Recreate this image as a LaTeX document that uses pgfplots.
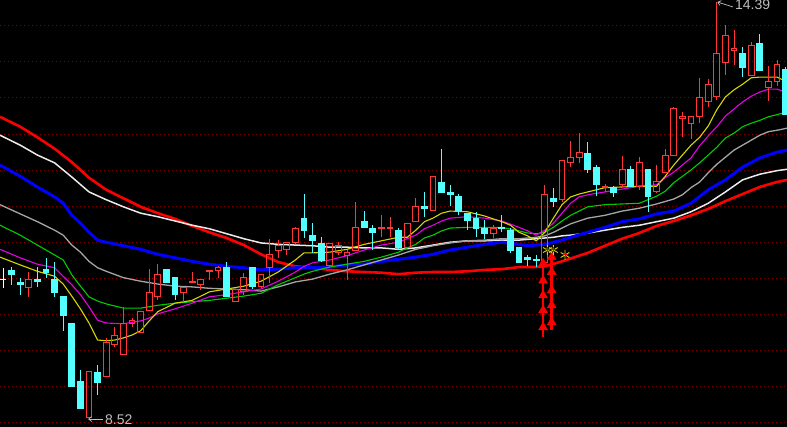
\documentclass[border=0pt]{standalone}
\usepackage{pgfplots}
\pgfplotsset{compat=1.18}
\usepackage{pgfplotstable}
\usepgfplotslibrary{statistics}
\usetikzlibrary{arrows.meta}
\usepackage{fontspec}
\setmainfont{Liberation Sans}
\definecolor{candred}{RGB}{255,55,55}
\definecolor{candcyan}{RGB}{84,255,255}
\definecolor{gridred}{RGB}{128,0,0}
\definecolor{mared}{RGB}{255,0,0}
\definecolor{mawhite}{RGB}{235,235,235}
\definecolor{mablue}{RGB}{0,0,255}
\definecolor{magray}{RGB}{165,165,165}
\definecolor{magreen}{RGB}{0,205,0}
\definecolor{mamag}{RGB}{230,0,230}
\definecolor{mayel}{RGB}{215,215,0}
\definecolor{labgray}{RGB}{190,190,190}
\pgfplotsset{
  cdown/.style={draw=candcyan, fill=candcyan, line width=1pt, solid},
  cup/.style={draw=candred, line width=1pt, solid},
  cdoji/.style={draw=white, line width=1pt, solid},
}

% k: 0 = down (cyan), 1 = up (red), 2 = doji (white)
\pgfplotstableread{
k o h l c
2 10.48 10.64 10.36 10.48
0 10.60 10.65 10.40 10.54
0 10.43 10.50 10.26 10.40
1 10.36 10.58 10.23 10.48
0 10.47 10.65 10.37 10.44
0 10.61 10.78 10.50 10.57
0 10.47 10.72 10.23 10.29
0 10.24 10.24 9.75 9.96
0 9.85 9.86 8.96 8.96
0 9.03 9.20 8.65 8.65
1 8.53 9.18 8.52 9.18
0 9.16 9.27 8.85 9.02
1 9.11 9.65 9.11 9.59
1 9.55 9.80 9.52 9.68
1 9.42 10.09 9.41 9.85
1 9.85 9.93 9.80 9.90
1 9.72 10.02 9.72 10.02
1 10.04 10.62 10.04 10.29
1 10.23 10.69 10.19 10.54
0 10.61 10.61 10.43 10.43
0 10.50 10.50 10.19 10.26
1 10.29 10.36 10.16 10.36
1 10.43 10.58 10.43 10.44
1 10.40 10.48 10.33 10.48
1 10.58 10.60 10.47 10.60
1 10.60 10.67 10.50 10.65
0 10.64 10.72 10.23 10.23
1 10.16 10.34 10.16 10.34
1 10.31 10.57 10.26 10.50
0 10.65 10.65 10.34 10.37
1 10.38 10.55 10.36 10.55
1 10.64 11.05 10.43 10.83
1 10.88 11.03 10.78 10.95
1 10.90 11.00 10.82 10.99
1 10.99 11.21 10.97 11.19
0 11.34 11.68 11.06 11.16
0 11.09 11.27 10.85 11.02
0 10.98 11.07 10.72 10.74
1 10.67 10.98 10.65 10.98
1 10.85 11.00 10.82 10.95
1 10.81 10.89 10.47 10.85
1 10.89 11.57 10.89 11.21
0 11.29 11.44 11.21 11.21
0 11.20 11.24 10.89 11.14
1 11.20 11.38 11.07 11.21
1 11.20 11.36 11.07 11.21
0 11.17 11.20 10.89 10.92
1 10.92 11.27 10.92 11.27
1 11.29 11.62 11.29 11.50
0 11.51 11.71 11.36 11.48
1 11.45 11.93 11.45 11.93
0 11.84 12.32 11.70 11.70
0 11.70 11.81 11.51 11.68
0 11.64 11.68 11.38 11.45
0 11.40 11.41 11.17 11.31
0 11.33 11.43 11.07 11.20
0 11.20 11.31 11.04 11.13
1 11.13 11.24 11.06 11.19
0 11.21 11.38 11.14 11.19
0 11.16 11.20 10.85 10.89
0 10.93 10.93 10.71 10.71
0 10.78 10.82 10.67 10.75
0 10.76 10.82 10.65 10.74
1 10.72 11.81 10.68 11.68
0 11.62 11.77 11.50 11.58
1 11.61 12.15 11.57 12.15
1 12.13 12.43 12.06 12.19
1 12.19 12.54 12.12 12.26
0 12.25 12.41 11.98 12.03
0 12.05 12.09 11.65 11.82
1 11.77 11.82 11.71 11.78
0 11.77 11.79 11.64 11.70
1 11.81 12.22 11.78 12.03
0 12.02 12.08 11.78 11.78
1 11.78 12.20 11.74 12.13
0 12.02 12.02 11.43 11.64
1 11.71 12.09 11.70 11.86
1 11.98 12.32 11.98 12.23
1 12.22 12.91 12.22 12.89
1 12.74 12.84 12.48 12.77
1 12.68 12.78 12.46 12.78
1 12.78 13.32 12.68 13.04
1 12.98 13.30 12.91 13.22
1 13.05 14.39 13.01 13.67
1 13.54 14.07 13.36 13.91
1 13.71 14.00 13.50 13.74
0 13.66 13.75 13.33 13.46
1 13.35 13.83 13.35 13.77
0 13.80 13.94 13.42 13.42
1 13.19 13.49 12.99 13.27
1 13.27 13.57 13.20 13.51
0 13.44 13.47 12.80 12.80
}\candles

\begin{document}
\begin{tikzpicture}
\begin{axis}[
  scale only axis, width=787pt, height=427pt,
  xmin=-0.35, xmax=91.16, ymin=8.393, ymax=14.418,
  axis line style={draw=none},
  axis background/.style={fill=black},
  xtick=\empty,
  ytick={8.452,8.961,9.471,9.980,10.490,10.999,11.508,12.018,12.527,13.036,13.546,14.055},
  yticklabels={},
  tick style={draw=none},
  ymajorgrids,
  grid style={gridred, line width=1pt, dash pattern=on 1.2pt off 2.8pt},
  boxplot/draw direction=y,
  boxplot/box extend=0.68,
  boxplot/whisker extend=0,
  clip=true,
]
% moving averages
\addplot[mared, line width=2.6pt, line join=round] coordinates {(-0.35,12.77) (2,12.63) (4,12.48) (6,12.32) (8,12.13) (10,11.91) (12,11.74) (14,11.62) (16,11.50) (18,11.41) (20,11.33) (22,11.23) (24,11.14) (26,11.06) (28,10.96) (30,10.83) (32,10.72) (34,10.66) (36,10.64) (38,10.61) (40,10.59) (42,10.58) (44,10.57) (46,10.55) (48,10.57) (50,10.58) (52,10.58) (54,10.59) (56,10.61) (58,10.62) (60,10.65) (62,10.65) (63,10.66) (65,10.73) (67,10.81) (68,10.85) (70,10.95) (72,11.05) (74,11.13) (76,11.23) (78,11.30) (80,11.38) (82,11.47) (84,11.58) (86,11.68) (88,11.78) (90,11.85) (91.2,11.88)};
\addplot[mawhite, line width=1.5pt, line join=round] coordinates {(-0.35,12.51) (2,12.37) (4,12.23) (6,12.12) (8,11.92) (10,11.71) (12,11.60) (14,11.50) (16,11.41) (18,11.36) (20,11.30) (22,11.24) (24,11.19) (26,11.12) (28,11.05) (30,10.99) (32,10.97) (34,10.96) (36,10.95) (38,10.93) (40,10.93) (42,10.92) (44,10.92) (46,10.90) (48,10.92) (50,10.96) (52,11.00) (54,11.02) (56,11.02) (58,11.03) (60,11.03) (62,11.05) (63,11.06) (64,11.07) (65,11.09) (66,11.10) (68,11.13) (70,11.17) (72,11.21) (74,11.24) (76,11.29) (78,11.34) (80,11.43) (82,11.55) (84,11.71) (86,11.88) (88,11.96) (90,12.01) (91.2,12.03)};
\addplot[mablue, line width=3pt, line join=round] coordinates {(-0.35,12.09) (2,11.93) (4,11.78) (6,11.64) (7,11.55) (8,11.38) (9,11.27) (10,11.14) (11,11.03) (12,11.00) (14,10.95) (16,10.90) (18,10.83) (20,10.78) (22,10.73) (24,10.69) (26,10.66) (28,10.64) (30,10.61) (32,10.62) (34,10.64) (36,10.64) (38,10.65) (40,10.68) (42,10.69) (44,10.73) (46,10.76) (48,10.79) (50,10.83) (52,10.89) (54,10.93) (56,10.97) (58,11.00) (60,10.97) (61,10.95) (62,10.96) (63,10.97) (64,11.00) (65,11.03) (66,11.07) (68,11.14) (70,11.21) (72,11.29) (74,11.33) (76,11.40) (78,11.44) (80,11.55) (82,11.74) (84,11.88) (86,12.06) (88,12.19) (90,12.27) (91.2,12.30)};
\addplot[magray, line width=1.3pt, line join=round] coordinates {(-0.35,11.53) (2,11.40) (4,11.29) (6,11.17) (7,11.10) (8,10.96) (9,10.86) (10,10.73) (11,10.64) (12,10.59) (14,10.50) (16,10.45) (18,10.41) (20,10.38) (22,10.37) (24,10.35) (26,10.34) (28,10.33) (30,10.31) (32,10.37) (34,10.44) (36,10.48) (38,10.55) (40,10.61) (42,10.68) (44,10.75) (46,10.82) (48,10.90) (50,10.95) (52,10.99) (54,11.02) (56,11.03) (58,11.05) (60,11.05) (62,11.07) (63,11.09) (64,11.14) (65,11.20) (66,11.26) (67,11.30) (68,11.34) (70,11.38) (72,11.44) (74,11.48) (76,11.54) (78,11.61) (79,11.67) (80,11.77) (81,11.85) (82,11.98) (83,12.10) (84,12.20) (85,12.30) (86,12.37) (87,12.44) (88,12.51) (89,12.56) (90,12.58) (91.2,12.61)};
\addplot[magreen, line width=1.1pt, line join=round] coordinates {(-0.35,11.24) (2,11.10) (4,10.96) (6,10.82) (7,10.75) (8,10.54) (9,10.38) (10,10.23) (11,10.17) (12,10.13) (14,10.07) (16,10.07) (18,10.11) (20,10.14) (22,10.16) (24,10.18) (26,10.21) (28,10.24) (30,10.28) (32,10.40) (34,10.50) (35,10.55) (36,10.59) (38,10.65) (40,10.69) (42,10.73) (44,10.79) (46,10.86) (47,10.92) (48,10.97) (49,11.06) (50,11.10) (51,11.16) (52,11.20) (54,11.21) (56,11.21) (58,11.21) (60,11.16) (61,11.13) (62,11.12) (63,11.14) (64,11.21) (65,11.30) (66,11.38) (67,11.44) (68,11.50) (70,11.53) (72,11.54) (74,11.55) (75,11.60) (76,11.65) (77,11.72) (78,11.84) (79,11.93) (80,12.02) (81,12.12) (82,12.23) (83,12.34) (84,12.47) (85,12.54) (86,12.63) (87,12.68) (88,12.72) (89,12.77) (90,12.80) (91.2,12.84)};
\addplot[mamag, line width=1.1pt, line join=round] coordinates {(-0.35,10.90) (2,10.78) (4,10.69) (6,10.64) (7,10.52) (8,10.40) (9,10.26) (10,10.09) (11,9.90) (12,9.86) (14,9.85) (16,9.89) (17,9.93) (18,9.99) (20,10.06) (22,10.14) (24,10.23) (26,10.26) (28,10.30) (30,10.34) (32,10.45) (34,10.58) (35,10.66) (36,10.71) (38,10.75) (40,10.81) (42,10.89) (44,10.96) (46,11.00) (47,11.05) (48,11.10) (49,11.19) (50,11.24) (51,11.30) (52,11.34) (54,11.36) (56,11.34) (58,11.30) (60,11.21) (61,11.16) (62,11.10) (63,11.17) (64,11.27) (65,11.41) (66,11.55) (67,11.64) (68,11.67) (70,11.71) (72,11.75) (74,11.79) (76,11.81) (77,11.91) (78,11.99) (79,12.09) (80,12.19) (81,12.36) (82,12.50) (83,12.63) (84,12.78) (85,12.88) (86,12.98) (87,13.06) (88,13.12) (89,13.16) (90,13.16) (91.2,13.11)};
\addplot[mayel, line width=1.1pt, line join=round] coordinates {(-0.35,10.79) (2,10.68) (4,10.59) (6,10.52) (7,10.41) (8,10.24) (9,10.06) (10,9.86) (11,9.62) (12,9.61) (13,9.62) (14,9.65) (15,9.69) (16,9.75) (17,9.89) (18,10.02) (20,10.14) (22,10.18) (24,10.30) (26,10.34) (28,10.38) (30,10.45) (32,10.58) (34,10.75) (35,10.85) (36,10.85) (38,10.86) (40,10.90) (42,10.97) (44,11.02) (46,11.07) (47,11.07) (48,11.17) (49,11.29) (50,11.34) (51,11.41) (52,11.44) (54,11.43) (56,11.37) (58,11.29) (59,11.24) (60,11.14) (61,11.09) (62,11.02) (63,11.14) (64,11.34) (65,11.53) (66,11.64) (67,11.68) (68,11.71) (70,11.77) (72,11.78) (74,11.79) (76,11.79) (77,11.93) (78,12.09) (79,12.23) (80,12.37) (81,12.48) (82,12.64) (83,12.87) (84,13.05) (85,13.15) (86,13.23) (87,13.32) (88,13.33) (90,13.33) (91.2,13.26)};
% candles: each row of the table is drawn as a prepared box (body) with whiskers (wicks)
\pgfplotsinvokeforeach{0,...,91}{%
  \pgfplotstablegetelem{#1}{o}\of\candles \let\vo\pgfplotsretval
  \pgfplotstablegetelem{#1}{h}\of\candles \let\vh\pgfplotsretval
  \pgfplotstablegetelem{#1}{l}\of\candles \let\vl\pgfplotsretval
  \pgfplotstablegetelem{#1}{c}\of\candles \let\vc\pgfplotsretval
  \pgfplotstablegetelem{#1}{k}\of\candles
  \ifcase\pgfplotsretval\relax
    \edef\doplot{\noexpand\addplot[cdown, boxplot prepared={draw position=#1, lower whisker=\vl, upper whisker=\vh, lower quartile=\vc, upper quartile=\vo, median=\vc}] coordinates {};}%
  \or
    \edef\doplot{\noexpand\addplot[cup, boxplot prepared={draw position=#1, lower whisker=\vl, upper whisker=\vh, lower quartile=\vo, upper quartile=\vc, median=\vo}] coordinates {};}%
  \or
    \edef\doplot{\noexpand\addplot[cdoji, boxplot prepared={draw position=#1, lower whisker=\vl, upper whisker=\vh, lower quartile=\vo, upper quartile=\vc, median=\vo}] coordinates {};}%
  \fi
  \doplot
}
% buy signals
\addplot[mared, line width=2.6pt] coordinates {(62.8,10.70) (62.8,9.66)};
\addplot[mared, line width=2.6pt] coordinates {(63.8,10.79) (63.8,9.76)};
\addplot[mared, only marks, mark=triangle*, mark size=5.2pt] coordinates {(62.8,10.70) (62.8,10.46) (62.8,10.25) (62.8,10.04) (62.8,9.80)};
\addplot[mared, only marks, mark=triangle*, mark size=5.2pt] coordinates {(63.8,10.79) (63.8,10.58) (63.8,10.32) (63.8,10.11) (63.8,9.87)};
\addplot[mayel, only marks, mark=asterisk, mark size=5pt, line width=0.9pt] coordinates {(63.3,10.89) (64.0,10.89) (65.35,10.82)};
\addplot[mared, only marks, mark=+, mark size=2.5pt, line width=0.9pt] coordinates {(63.3,10.90) (64.0,10.90) (65.35,10.83)};
% extreme labels
\draw[labgray, line width=0.7pt, -{Straight Barb[length=3pt,width=5pt]}] (axis cs:11.63,8.505) -- (axis cs:9.9,8.505);
\node[anchor=west, inner sep=0pt, text=labgray, font=\fontsize{14}{14}\selectfont] at (axis cs:11.86,8.49) {8.52};
\draw[labgray, line width=0.7pt, -{Straight Barb[length=3pt,width=5pt]}] (axis cs:84.88,14.32) -- (axis cs:83.05,14.39);
\node[anchor=west, inner sep=0pt, text=labgray, font=\fontsize{14}{14}\selectfont] at (axis cs:85.1,14.35) {14.39};
\end{axis}
\pgfresetboundingbox
\useasboundingbox (current axis.south west) rectangle (current axis.north east);
\end{tikzpicture}
\end{document}
